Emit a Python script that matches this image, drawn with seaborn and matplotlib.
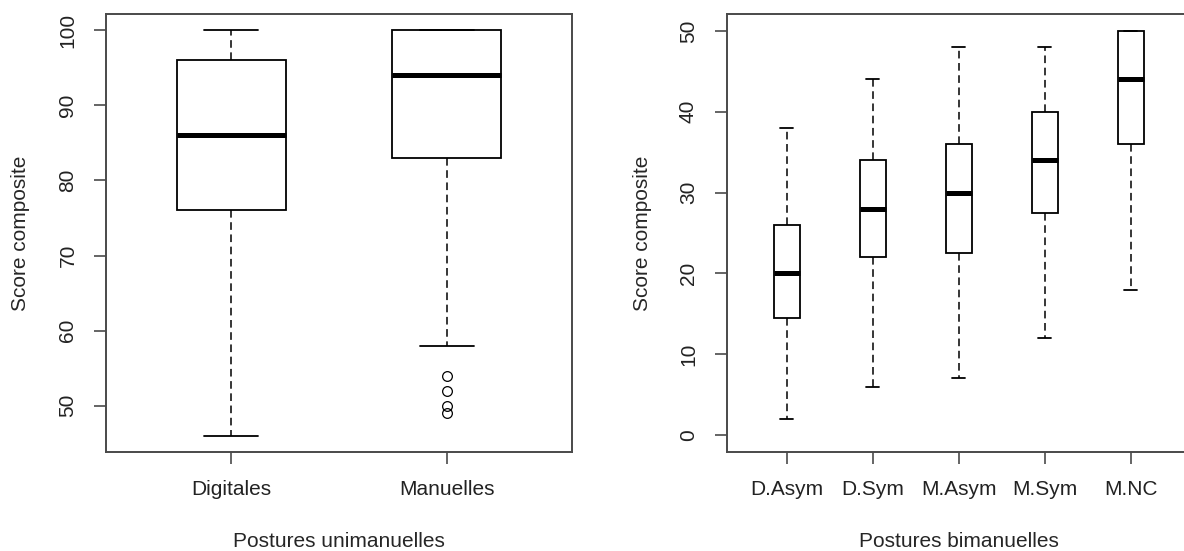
"""Deux boites a moustaches facon R : postures unimanuelles et bimanuelles."""

import matplotlib

matplotlib.use("Agg")
import matplotlib.pyplot as plt
import pandas as pd
import seaborn as sns

# --- valeurs (resume en 5 nombres + atypiques) ---
uni_groups = ["Digitales", "Manuelles"]
uni_low = [46, 58]
uni_q1 = [76, 83]
uni_med = [86, 94]
uni_q3 = [96, 100]
uni_high = [100, 100]
uni_outliers = [[], [49, 50, 52, 54]]

bi_groups = ["D.Asym", "D.Sym", "M.Asym", "M.Sym", "M.NC"]
bi_low = [2, 6, 7, 12, 18]
bi_q1 = [14.5, 22, 22.5, 27.5, 36]
bi_med = [20, 28, 30, 34, 44]
bi_q3 = [26, 34, 36, 40, 50]
bi_high = [38, 44, 48, 48, 50]
bi_outliers = [[], [], [], [], []]

FRAME = "#4a4a4a"
FONT = ["Liberation Sans", "DejaVu Sans"]


def build_frame(groups, low, q1, med, q3, high, outliers):
    # echantillon minimal dont les quartiles retombent sur le resume lu
    rows = []
    for g, lo, a, m, b, hi, out in zip(groups, low, q1, med, q3, high, outliers):
        k = len(out) + 1
        values = list(out) + [lo] + [a] * k + [m] * k + [b] * k + [hi]
        rows += [(g, v) for v in values]
    return pd.DataFrame(rows, columns=["posture", "score"])


def draw(ax, df, order, width, xlabel, ylim, yticks):
    sns.boxplot(
        data=df, x="posture", y="score", order=order, ax=ax,
        width=width, color="white", linecolor="black", linewidth=1.3,
        whis=1.5,
        medianprops={"linewidth": 3.6, "color": "black"},
        whiskerprops={"linestyle": (0, (5, 3)), "linewidth": 1.1},
        capprops={"linewidth": 1.3},
        flierprops={"marker": "o", "markerfacecolor": "none",
                    "markeredgecolor": "black", "markersize": 7,
                    "markeredgewidth": 0.9},
    )
    n = len(order)
    pad = 0.04 * n
    ax.set_xlim(-0.5 - pad, n - 0.5 + pad)
    ax.set_ylim(*ylim)
    ax.set_yticks(yticks)
    ax.set_xlabel(xlabel, fontsize=15)
    ax.set_ylabel("Score composite", fontsize=15)
    ax.xaxis.set_label_coords(0.5, -0.183)
    for side in ax.spines.values():
        side.set_visible(True)
        side.set_color(FRAME)
        side.set_linewidth(1.4)
    ax.tick_params(axis="both", direction="out", length=8.6, width=1.2,
                   color=FRAME, labelsize=15, labelcolor="#222222")
    ax.tick_params(axis="x", bottom=True, top=False, pad=11.5)
    ax.tick_params(axis="y", left=True, right=False, pad=12, labelrotation=90)
    for lab in ax.get_yticklabels():
        lab.set_va("center")
    ax.grid(False)


sns.set_theme(style="white")
plt.rcParams["font.family"] = FONT

fig = plt.figure(figsize=(11.84, 5.51), dpi=100)
ax1 = fig.add_axes([106 / 1184, 99 / 551, 466 / 1184, 438 / 551])
ax2 = fig.add_axes([726.5 / 1184, 99 / 551, 464.5 / 1184, 438 / 551])

df_uni = build_frame(uni_groups, uni_low, uni_q1, uni_med, uni_q3, uni_high, uni_outliers)
df_bi = build_frame(bi_groups, bi_low, bi_q1, bi_med, bi_q3, bi_high, bi_outliers)

draw(ax1, df_uni, uni_groups, 0.505, "Postures unimanuelles",
     (43.84, 102.16), [50, 60, 70, 80, 90, 100])
draw(ax2, df_bi, bi_groups, 0.305, "Postures bimanuelles",
     (-2.1, 52.1), [0, 10, 20, 30, 40, 50])

ax1.yaxis.set_label_coords(-0.163, 0.5)
ax2.yaxis.set_label_coords(-0.160, 0.5)

fig.savefig("out.png", dpi=100)
